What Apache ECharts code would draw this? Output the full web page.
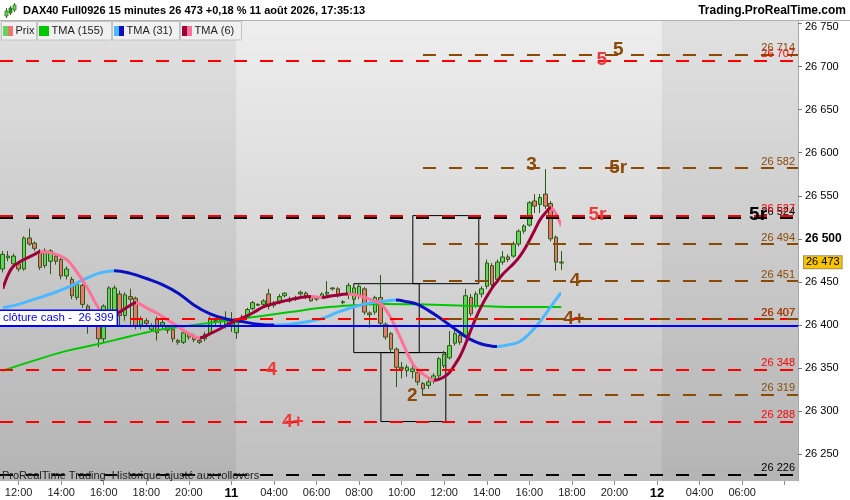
<!DOCTYPE html>
<html>
<head>
<meta charset="utf-8">
<title>DAX40 Full0926 15 minutes</title>
<script src="https://cdn.jsdelivr.net/npm/echarts@6/dist/echarts.min.js"></script>
<style>
html, body { margin: 0; padding: 0; background: #fff; }
#chart { width: 850px; height: 500px; }
</style>
</head>
<body>
<div id="chart"></div>
<script>
var C_FONT = '"Liberation Sans", Arial, sans-serif';
var C_COLOR = {
	up		: '#62d65a',
	down	: '#eb786e',
	wick	: '#2c5a14',
	tma155	: '#00c800',
	tma31Up	: '#4cb9ff',
	tma31Dn	: '#0a10c0',
	tma6Up	: '#a0003a',
	tma6Dn	: '#ff7098',
	red		: '#ff0000',
	brown	: '#8a4a06',
	black	: '#000000',
	cash	: '#0000ff',
	tagRed	: '#f03a3a'
};

/* sessions de cotation visibles (barres de 15 minutes) */
var SESSIONS = [
	{day: '10', from: '11:15', to: '21:45'},
	{day: '11', from: '02:00', to: '21:45'},
	{day: '12', from: '02:00', to: '08:30'}
];
var labelHours = ['04:00', '06:00', '08:00', '10:00', '12:00', '14:00', '16:00', '18:00', '20:00'];
var hiddenLabels = ['12 08:00'];

var openP = [26465,26478,26471,26471,26465,26501,26495,26486,26469,26474,
	26480,26476,26457,26453,26432,26446,26422,26414,26401,26384,
	26407,26411,26436,26411,26433,26431,26400,26405,26395,26407,
	26400,26398,26395,26382,26380,26389,26387,26382,26384,26390,
	26405,26404,26400,26401,26391,26407,26410,26419,26424,26424,
	26436,26423,26426,26434,26430,26430,26436,26437,26432,26430,
	26432,26436,26443,26442,26427,26436,26430,26434,26442,26414,
	26415,26432,26401,26390,26372,26351,26347,26346,26345,26332,
	26330,26335,26341,26353,26362,26379,26388,26388,26432,26422,
	26436,26445,26469,26453,26473,26479,26480,26494,26509,26516,
	26544,26540,26552,26541,26502,26472];
var highP = [26486,26486,26483,26474,26503,26512,26497,26488,26489,26488,
	26482,26478,26468,26456,26450,26448,26424,26418,26404,26424,
	26445,26446,26440,26438,26442,26433,26410,26408,26402,26410,
	26406,26400,26397,26384,26393,26392,26390,26385,26392,26410,
	26408,26410,26416,26415,26407,26412,26420,26428,26425,26430,
	26442,26428,26436,26438,26433,26434,26440,26439,26434,26433,
	26438,26451,26444,26444,26429,26449,26446,26448,26444,26416,
	26434,26458,26403,26392,26374,26357,26354,26353,26348,26334,
	26337,26344,26363,26370,26393,26394,26391,26442,26436,26439,
	26445,26476,26472,26476,26486,26482,26497,26511,26517,26544,
	26552,26552,26581,26544,26504,26486];
var lowP = [26461,26474,26468,26462,26463,26492,26486,26464,26466,26459,
	26470,26453,26453,26430,26429,26420,26390,26398,26374,26380,
	26402,26408,26400,26405,26399,26395,26395,26398,26392,26382,
	26396,26390,26380,26377,26378,26383,26380,26378,26381,26388,
	26400,26400,26396,26392,26384,26403,26408,26417,26422,26421,
	26418,26420,26424,26432,26426,26428,26434,26430,26427,26428,
	26430,26432,26440,26432,26424,26430,26426,26430,26412,26397,
	26412,26399,26383,26368,26328,26338,26340,26338,26330,26318,
	26326,26332,26338,26350,26360,26376,26377,26385,26410,26420,
	26432,26442,26444,26450,26470,26473,26478,26491,26506,26514,
	26530,26530,26535,26497,26463,26464];
var closeP = [26482,26480,26480,26465,26501,26494,26489,26467,26486,26486,
	26474,26457,26465,26434,26447,26424,26415,26404,26384,26422,
	26443,26443,26411,26435,26430,26399,26407,26402,26399,26391,
	26403,26394,26384,26380,26391,26386,26383,26380,26389,26407,
	26404,26406,26407,26406,26405,26409,26418,26426,26423,26428,
	26422,26425,26433,26437,26428,26432,26438,26432,26428,26431,
	26436,26438,26442,26434,26426,26446,26443,26445,26415,26412,
	26432,26402,26386,26372,26351,26349,26351,26349,26334,26326,
	26334,26341,26361,26366,26376,26390,26380,26434,26413,26436,
	26442,26472,26447,26473,26479,26476,26494,26509,26515,26542,
	26538,26548,26538,26500,26473,26473];

/* moyennes triangulaires : [indice de barre, valeur] */
var tma155 = [[0,26347],[6,26359],[12,26370],[18,26378],[24,26387],[30,26395],[36,26400],
	[42,26405],[48,26410],[54,26415],[60,26420],[66,26423],[72,26424.5],[78,26424],
	[84,26423],[90,26422],[96,26421],[102,26421],[105,26421]];
var tma31 = [[0,26420],[3,26424],[6,26430],[9,26436],[12,26443],[15,26452],[18,26460],[21,26463],
	[24,26460],[27,26454],[30,26447],[33,26437],[36,26423],[39,26413],[42,26407],[45,26404],[48,26401],[51,26400],
	[54,26401],[57,26403.5],[60,26407.5],[63,26415],[66,26421],[69,26425.5],[72,26428],[74,26429],
	[76,26427],[78,26424],[80,26417],[82,26409],[84,26400],[86,26391],[88,26383],[90,26378],[92,26375.5],[93,26375],
	[95,26377],[97,26380],[99,26390],[101,26404],[103,26421],[105,26438]];
var tma6 = [[0,26442],[1,26458],[2,26468],[4,26476],[6,26482],[7,26485],
	[9,26484],[12,26476],[14,26461],[16,26442],[18,26420],[20,26406],
	[22,26415],[24,26423],[25,26426],
	[27,26420],[29,26414],[31,26406],[33,26398],[35,26390],[37,26385],
	[39,26390],[41,26396],[43,26403],[45,26408],[47,26414],[49,26421],[51,26425],[53,26428],[56,26432],[58,26433],
	[60,26432],
	[62,26434],[65,26436],
	[67,26434],[69,26430],[71,26425],[72,26418],[73,26408],[74,26395],[75,26382],[76,26368],[77,26356],[78,26348],[79,26343],[80,26339],[81,26336],
	[82,26337],[83,26340],[84,26345],[85,26354],[86,26364],[87,26378],[88,26394],[89,26409],[90,26422],[91,26433],[92,26443],
	[93,26451],[94,26459],[95,26465],[96,26471],[97,26478],[98,26487],[99,26498],[100,26510],[101,26522],[102,26530],[103,26536],
	[104,26529],[105,26515]];

var yTicks = [26250, 26300, 26350, 26400, 26450, 26500, 26550, 26600, 26650, 26700, 26750];
var yMin = 26219;
var yMax = 26754;
var boldTick = 26500;
var topTick = 26750;

var cashClose = 26399;
var blackLevels = [26524, 26226];
var redLevels = [26707, 26527, 26407, 26348, 26288];
var brownLevels = [26714, 26582, 26494, 26451, 26407, 26319];
var brownFrom = 79;

/* [texte, indice de barre, prix, couleur] */
var levelTags = [
	['5', 115.7, 26719, 'brown'],
	['5', 112.6, 26708, 'red'],
	['5r', 115.7, 26583, 'brown'],
	['3', 99.4, 26586, 'brown'],
	['5r', 111.8, 26528, 'red'],
	['5r', 142, 26528, 'black'],
	['4', 107.6, 26451, 'brown'],
	['4+', 107.4, 26407, 'brown'],
	['4', 50.6, 26348, 'red'],
	['4+', 54.6, 26288, 'red'],
	['2', 77.0, 26318, 'brown']
];
/* [début, fin, haut, bas] */
var boxes = [
	[66.0, 78.3, 26448, 26368],
	[71.1, 83.3, 26368, 26288],
	[77.1, 89.5, 26527, 26448]
];
var dayShade = [[-0.5, 43.9], [123.9, 149.5]];

function toMin(t) {
	var p = t.split(':');
	return parseInt(p[0], 10) * 60 + parseInt(p[1], 10);
}
function pad2(n) {
	return (n < 10 ? '0' : '') + n;
}
function fmtPrice(v) {
	var s = String(Math.round(v));
	return s.slice(0, s.length - 3) + ' ' + s.slice(-3);
}

var categories = [];
for (var s = 0; s < SESSIONS.length; s++) {
	for (var m = toMin(SESSIONS[s].from); m <= toMin(SESSIONS[s].to); m += 15) {
		categories.push(SESSIONS[s].day + ' ' + pad2(Math.floor(m / 60)) + ':' + pad2(m % 60));
	}
}
var lastIdx = categories.length - 0.5;

function isTickAt(idx, val) {
	var t = val.substr(3);
	return t == '02:00' || labelHours.indexOf(t) != -1;
}
function isLabelAt(idx, val) {
	return isTickAt(idx, val) && hiddenLabels.indexOf(val) == -1;
}

var candleData = [];
for (var i = 0; i < openP.length; i++) {
	candleData.push([openP[i], closeP[i], lowP[i], highP[i]]);
}

function slopePieces(points, upColor, dnColor) {
	var pieces = [];
	for (var k = 0; k < points.length - 1; k++) {
		var color = points[k + 1][1] >= points[k][1] ? upColor : dnColor;
		var last = pieces[pieces.length - 1];
		if (last && last.color == color) {
			last.lt = points[k + 1][0];
		} else {
			pieces.push({gte: points[k][0], lt: points[k + 1][0], color: color});
		}
	}
	var end = pieces[pieces.length - 1];
	end.lte = end.lt;
	delete end.lt;
	return pieces;
}

function getLevel(v, color, from) {
	var style = {color: color, width: 2, type: [13, 13]};
	var label = {
		show: true, position: 'insideEndTop', formatter: fmtPrice(v),
		color: color, fontSize: 11, fontFamily: C_FONT, distance: [3, 1]
	};
	if (from == null) {
		return {yAxis: v, lineStyle: style, label: label};
	}
	return [{coord: [from, v], lineStyle: style, label: label}, {coord: [lastIdx, v]}];
}

var levelLines = [];
blackLevels.forEach(function(v) { levelLines.push(getLevel(v, C_COLOR.black, null)); });
redLevels.forEach(function(v) { levelLines.push(getLevel(v, C_COLOR.red, null)); });
brownLevels.forEach(function(v) { levelLines.push(getLevel(v, C_COLOR.brown, brownFrom)); });
levelLines.push({
	yAxis: cashClose,
	lineStyle: {color: C_COLOR.cash, width: 2, type: 'solid'},
	label: {
		show: true, position: 'insideStartTop', formatter: 'clôture cash -  ' + fmtPrice(cashClose),
		color: C_COLOR.cash, fontSize: 11.5, fontFamily: C_FONT,
		backgroundColor: '#fff', borderColor: C_COLOR.cash, borderWidth: 1.5,
		padding: [1, 3, 1, 3], distance: [0, 1]
	}
});
levelLines.push({
	yAxis: closeP[closeP.length - 1],
	lineStyle: {color: 'rgba(0,0,0,0)', width: 1},
	label: {
		show: true, position: 'end', formatter: fmtPrice(closeP[closeP.length - 1]),
		color: '#000', fontSize: 11, fontFamily: C_FONT,
		backgroundColor: '#f8c400', borderColor: '#a09060', borderWidth: 1,
		padding: [1, 2, 0, 2], distance: 6
	}
});

var TAG_COLOR = {red: C_COLOR.tagRed, brown: C_COLOR.brown, black: C_COLOR.black};
var tagData = levelTags.map(function(t) {
	return {name: t[0], coord: [t[1], t[2]], label: {color: TAG_COLOR[t[3]]}};
});

/* en-tête et légende */
var graphicEls = [
	{type: 'rect', shape: {x: 0, y: 0, width: 850, height: 20}, style: {fill: '#fff'}, z: 50, silent: true},
	{type: 'line', shape: {x1: 0, y1: 20.5, x2: 850, y2: 20.5}, style: {stroke: '#b0b0b0', lineWidth: 1}, z: 51, silent: true},
	{type: 'line', shape: {x1: 6.5, y1: 8, x2: 6.5, y2: 18}, style: {stroke: '#2c7a14', lineWidth: 1}, z: 52},
	{type: 'rect', shape: {x: 5, y: 11, width: 3, height: 5}, style: {fill: C_COLOR.up, stroke: '#2c7a14', lineWidth: 0.8}, z: 53},
	{type: 'line', shape: {x1: 10.5, y1: 6, x2: 10.5, y2: 15}, style: {stroke: '#2c7a14', lineWidth: 1}, z: 52},
	{type: 'rect', shape: {x: 9, y: 8, width: 3, height: 5}, style: {fill: '#2e8b2e', stroke: '#2c7a14', lineWidth: 0.8}, z: 53},
	{type: 'line', shape: {x1: 14.5, y1: 3, x2: 14.5, y2: 12}, style: {stroke: '#2c7a14', lineWidth: 1}, z: 52},
	{type: 'rect', shape: {x: 13, y: 5, width: 3, height: 5}, style: {fill: C_COLOR.up, stroke: '#2c7a14', lineWidth: 0.8}, z: 53},
	{type: 'text', x: 23, y: 11, z: 52, style: {
		text: 'DAX40 Full0926 15 minutes 26 473 +0,18 % 11 août 2026, 17:35:13',
		font: 'bold 11px ' + C_FONT, fill: '#000', verticalAlign: 'middle'}},
	{type: 'text', x: 846, y: 11, z: 52, style: {
		text: 'Trading.ProRealTime.com',
		font: 'bold 12px ' + C_FONT, fill: '#000', textAlign: 'right', verticalAlign: 'middle'}},
	{type: 'text', x: 2, y: 476, z: 52, style: {
		text: 'ProRealTime Trading  Historique ajusté aux rollovers',
		font: '11px ' + C_FONT, fill: '#222', verticalAlign: 'middle'}}
];
var legendDefs = [
	{text: 'Prix', colors: [C_COLOR.up, C_COLOR.down], w: 35},
	{text: 'TMA (155)', colors: [C_COLOR.tma155], w: 74},
	{text: 'TMA (31)', colors: [C_COLOR.tma31Up, C_COLOR.tma31Dn], w: 67},
	{text: 'TMA (6)', colors: [C_COLOR.tma6Up, C_COLOR.tma6Dn], w: 61}
];
var lx = 1.5;
legendDefs.forEach(function(d) {
	graphicEls.push({type: 'rect', shape: {x: lx, y: 21.5, width: d.w, height: 18.5},
		style: {fill: '#f0f0f0', stroke: '#c4c4c4', lineWidth: 1}, z: 52});
	var iw = 10 / d.colors.length;
	for (var c = 0; c < d.colors.length; c++) {
		graphicEls.push({type: 'rect', shape: {x: lx + 1.5 + c * iw, y: 26, width: iw, height: 10},
			style: {fill: d.colors[c]}, z: 53});
	}
	graphicEls.push({type: 'text', x: lx + 14, y: 31, z: 53, style: {
		text: d.text, font: '11px ' + C_FONT, fill: '#222', verticalAlign: 'middle'}});
	lx += d.w + 1;
});

var option = {
	animation: false,
	backgroundColor: '#fff',
	grid: {
		left: 0, right: 52, top: 20, bottom: 17,
		show: true, borderWidth: 0,
		backgroundColor: new echarts.graphic.LinearGradient(0, 0, 0, 1, [
			{offset: 0, color: '#eeeeee'},
			{offset: 1, color: '#bfbfbf'}
		])
	},
	xAxis: [{
		type: 'category',
		data: categories,
		boundaryGap: true,
		axisLine: {show: false, onZero: false},
		axisTick: {show: true, interval: isTickAt, alignWithLabel: true, length: 4, lineStyle: {color: '#8a8a8a'}},
		axisLabel: {
			interval: isLabelAt,
			margin: 6,
			color: '#222',
			fontSize: 11,
			fontFamily: C_FONT,
			formatter: function(val) {
				var t = val.substr(3);
				return t == '02:00' ? '{d|' + val.substr(0, 2) + '}' : t;
			},
			rich: {d: {fontWeight: 'bold', fontSize: 13, color: '#000', fontFamily: C_FONT}}
		},
		splitLine: {show: false}
	}, {
		type: 'value',
		min: -0.5,
		max: lastIdx,
		show: false,
		axisLine: {onZero: false}
	}],
	yAxis: {
		type: 'value',
		position: 'right',
		min: yMin,
		max: yMax,
		scale: true,
		splitLine: {show: false},
		axisLine: {show: true, onZero: false, lineStyle: {color: '#a8a8a8'}},
		axisTick: {show: true, customValues: yTicks, length: 4, lineStyle: {color: '#777'}},
		axisLabel: {
			customValues: yTicks,
			margin: 7,
			color: '#000',
			fontSize: 11,
			fontFamily: C_FONT,
			formatter: function(v) {
				if (v == boldTick) return '{b|' + fmtPrice(v) + '}';
				if (v == topTick) return '{t|' + fmtPrice(v) + '}';
				return fmtPrice(v);
			},
			rich: {
				b: {fontWeight: 'bold', fontSize: 12, color: '#000', fontFamily: C_FONT},
				t: {fontSize: 11, color: '#000', fontFamily: C_FONT, padding: [8, 0, 0, 0]}
			}
		}
	},
	visualMap: [{
		type: 'piecewise', show: false, seriesIndex: 3, dimension: 0,
		pieces: slopePieces(tma31, C_COLOR.tma31Up, C_COLOR.tma31Dn)
	}, {
		type: 'piecewise', show: false, seriesIndex: 4, dimension: 0,
		pieces: slopePieces(tma6, C_COLOR.tma6Up, C_COLOR.tma6Dn)
	}],
	graphic: {elements: graphicEls},
	series: [{
		name: 'jours',
		type: 'line',
		xAxisIndex: 1,
		data: [],
		z: 1,
		silent: true,
		markArea: {
			silent: true,
			itemStyle: {color: 'rgba(0,0,0,0.055)'},
			data: dayShade.map(function(d) { return [{xAxis: d[0]}, {xAxis: d[1]}]; })
		}
	}, {
		name: 'Prix',
		type: 'candlestick',
		xAxisIndex: 0,
		data: candleData,
		barWidth: 4,
		z: 2,
		itemStyle: {
			color: C_COLOR.up,
			color0: C_COLOR.down,
			borderColor: C_COLOR.wick,
			borderColor0: C_COLOR.wick,
			borderWidth: 1
		}
	}, {
		name: 'TMA (155)',
		type: 'line',
		xAxisIndex: 1,
		data: tma155,
		smooth: 0.4,
		showSymbol: false,
		z: 3,
		lineStyle: {color: C_COLOR.tma155, width: 2}
	}, {
		name: 'TMA (31)',
		type: 'line',
		xAxisIndex: 1,
		data: tma31,
		smooth: 0.4,
		showSymbol: false,
		z: 3,
		lineStyle: {width: 3}
	}, {
		name: 'TMA (6)',
		type: 'line',
		xAxisIndex: 1,
		data: tma6,
		smooth: 0.35,
		showSymbol: false,
		z: 3,
		lineStyle: {width: 3}
	}, {
		name: 'objets',
		type: 'line',
		xAxisIndex: 1,
		data: [],
		z: 4,
		silent: true,
		markLine: {
			silent: true,
			symbol: ['none', 'none'],
			emphasis: {disabled: true},
			data: levelLines
		},
		markArea: {
			silent: true,
			itemStyle: {color: 'rgba(0,0,0,0)', borderColor: '#000', borderWidth: 1},
			data: boxes.map(function(b) { return [{coord: [b[0], b[2]]}, {coord: [b[1], b[3]]}]; })
		},
		markPoint: {
			silent: true,
			symbol: 'rect',
			symbolSize: 1,
			itemStyle: {color: 'rgba(0,0,0,0)'},
			label: {show: true, position: 'inside', formatter: '{b}', fontSize: 19, fontWeight: 'bold', fontFamily: C_FONT},
			data: tagData
		}
	}]
};

var chart = echarts.init(document.getElementById('chart'));
chart.setOption(option);
</script>
</body>
</html>
